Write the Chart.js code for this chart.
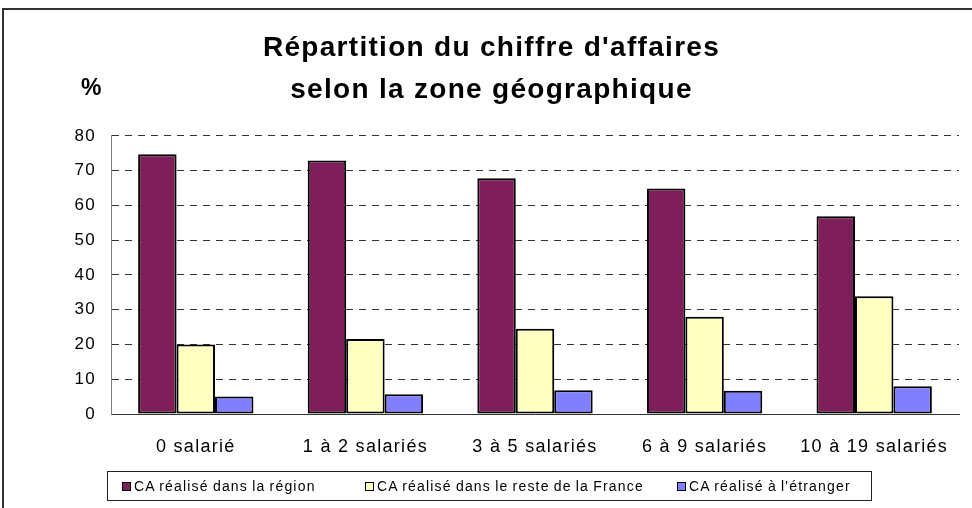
<!DOCTYPE html>
<html>
<head>
<meta charset="utf-8">
<script src="https://cdn.jsdelivr.net/npm/chart.js@4/dist/chart.umd.min.js"></script>
<style>
  html, body { margin: 0; padding: 0; background: #fff; }
  #wrap { position: relative; width: 972px; height: 508px; overflow: hidden; }
  #frame { position: absolute; left: 2px; top: 8px; width: 1000px; height: 600px;
           border-left: 2px solid #333; border-top: 2px solid #333; }
  #chart { position: absolute; left: 0; top: 0; }
  #legend { position: absolute; left: 107px; top: 471px; width: 765px; height: 30px;
            box-sizing: border-box; border: 1px solid #222;
            font: 14px "Liberation Sans", Arial, sans-serif; letter-spacing: 1.2px; word-spacing: -1px; color: #000; }
  #legend .item { position: absolute; top: 0; height: 28px; display: flex; align-items: center; white-space: nowrap; }
  #legend .mark { width: 7px; height: 7px; border: 1px solid #000; margin-right: 3px; }
</style>
</head>
<body>
<div id="wrap">
  <div id="frame"></div>
  <canvas id="chart" width="972" height="508"></canvas>
  <div id="legend"></div>
</div>
<script>
const categories = ['0 salarié', '1 à 2 salariés', '3 à 5 salariés', '6 à 9 salariés', '10 à 19 salariés'];
const seriesNames = ['CA réalisé dans la région', 'CA réalisé dans le reste de la France', "CA réalisé à l'étranger"];
const regionValues = [74.7, 72.9, 67.8, 64.9, 56.9];
const franceValues = [20.0, 21.6, 24.5, 28.0, 33.9];
const foreignValues = [5.0, 5.7, 6.8, 6.7, 8.0];
const yTicks = [0, 10, 20, 30, 40, 50, 60, 70, 80];
const titleLines = ["Répartition du chiffre d'affaires", 'selon la zone géographique'];
const unitLabel = '%';

const colors = ['#7f1f5a', '#ffffc2', '#8080ff'];
const font = '"Liberation Sans", Arial, sans-serif';
const legendLeft = [14, 257, 569];

// texte un peu plus espacé, comme dans l'original
const spacingPlugin = {
  id: 'spacing',
  beforeDraw(chart) { chart.ctx.letterSpacing = '1.3px'; }
};

// "%" au-dessus de l'axe des ordonnées
const unitPlugin = {
  id: 'unitLabel',
  afterDraw(chart) {
    const ctx = chart.ctx;
    ctx.save();
    ctx.font = 'bold 23px ' + font;
    ctx.fillStyle = '#000';
    ctx.textAlign = 'center';
    ctx.textBaseline = 'middle';
    ctx.fillText(unitLabel, 92, 89);
    ctx.restore();
  }
};

const chart = new Chart(document.getElementById('chart'), {
  type: 'bar',
  data: {
    labels: categories,
    datasets: [regionValues, franceValues, foreignValues].map((vals, i) => ({
      label: seriesNames[i],
      data: vals,
      backgroundColor: colors[i],
      borderColor: '#000',
      borderWidth: 2,
      borderSkipped: false,
      categoryPercentage: 0.68,
      barPercentage: 1.0
    }))
  },
  options: {
    responsive: false,
    animation: false,
    events: [],
    layout: { padding: { top: 0, right: 13, bottom: 34, left: 24 } },
    plugins: {
      legend: { display: false },
      tooltip: { enabled: false },
      title: {
        display: true,
        text: titleLines,
        color: '#000',
        font: { family: font, size: 28, weight: 'bold', lineHeight: 1.48 },
        padding: { top: 28, bottom: 25 }
      }
    },
    scales: {
      x: {
        grid: { display: false },
        border: { display: true, color: '#333', width: 1 },
        ticks: { color: '#000', font: { family: font, size: 18 }, padding: 14, maxRotation: 0 },
        afterFit(scale) { scale.height = 60; }
      },
      y: {
        min: 0,
        max: 80,
        afterBuildTicks(scale) { scale.ticks = yTicks.map(v => ({ value: v })); },
        grid: { color: '#333', lineWidth: 1, drawTicks: false },
        border: { display: true, color: '#808080', width: 1, dash: [7, 6] },
        ticks: { color: '#000', font: { family: font, size: 17 }, padding: 15 },
        afterFit(scale) { scale.width = 87; }
      }
    }
  },
  plugins: [spacingPlugin, unitPlugin]
});

// légende encadrée sous le graphique
const legend = document.getElementById('legend');
chart.data.datasets.forEach((ds, i) => {
  const item = document.createElement('span');
  item.className = 'item';
  item.style.left = legendLeft[i] + 'px';
  const mark = document.createElement('span');
  mark.className = 'mark';
  mark.style.background = ds.backgroundColor;
  item.appendChild(mark);
  item.appendChild(document.createTextNode(ds.label));
  legend.appendChild(item);
});
</script>
</body>
</html>
